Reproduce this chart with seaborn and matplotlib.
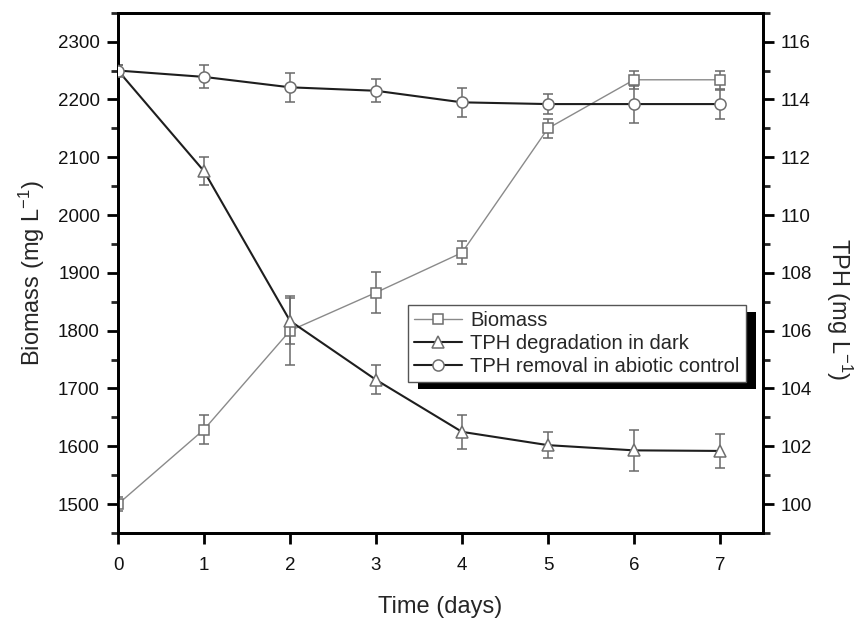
import matplotlib
matplotlib.use("Agg")
import matplotlib.pyplot as plt
import seaborn as sns
import pandas as pd
from matplotlib.patches import Rectangle
from matplotlib.ticker import MultipleLocator

# ---- data ----
days = [0, 1, 2, 3, 4, 5, 6, 7]
biomass = [1500, 1629, 1800, 1866, 1935, 2150, 2234, 2234]
biomass_err = [12, 25, 60, 35, 20, 16, 16, 16]
tph_dark = [115.0, 111.52, 106.34, 104.3, 102.5, 102.04, 101.86, 101.84]
tph_dark_err = [0.2, 0.48, 0.8, 0.5, 0.6, 0.44, 0.7, 0.6]
tph_abiotic = [115.0, 114.78, 114.42, 114.3, 113.9, 113.84, 113.84, 113.84]
tph_abiotic_err = [0.2, 0.4, 0.5, 0.4, 0.5, 0.34, 0.64, 0.5]
left_ticks = [1500, 1600, 1700, 1800, 1900, 2000, 2100, 2200, 2300]
right_ticks = [100, 102, 104, 106, 108, 110, 112, 114, 116]
labels = ["Biomass", "TPH degradation in dark", "TPH removal in abiotic control"]

sns.set_style("ticks")
plt.rcParams['font.family'] = ['Liberation Sans', 'DejaVu Sans']
plt.rcParams['mathtext.default'] = 'regular'

fig = plt.figure(figsize=(8.57, 6.18), dpi=100)
ax = fig.add_axes([0.1377, 0.1375, 0.7526, 0.8419])
ax2 = ax.twinx()

df_b = pd.DataFrame({"day": days, "val": biomass})
df_d = pd.DataFrame({"day": days, "val": tph_dark})
df_a = pd.DataFrame({"day": days, "val": tph_abiotic})

gray_line = "#8a8a8a"
dark_line = "#1e1e1e"
edge = "#6e6e6e"
errc = "#6a6a6a"
cap = 3.5

# biomass on left axis
ax.errorbar(days, biomass, yerr=biomass_err, fmt="none", ecolor=errc,
            elinewidth=1.1, capsize=cap, capthick=1.1, zorder=2)
sns.lineplot(data=df_b, x="day", y="val", ax=ax, color=gray_line, lw=1.0,
             marker="s", markersize=6.5, markerfacecolor="white",
             markeredgecolor=edge, markeredgewidth=1.1, zorder=3, label=labels[0],
             legend=False)

# TPH on right axis
ax2.errorbar(days, tph_dark, yerr=tph_dark_err, fmt="none", ecolor=errc,
             elinewidth=1.1, capsize=cap, capthick=1.1, zorder=2)
ax2.errorbar(days, tph_abiotic, yerr=tph_abiotic_err, fmt="none", ecolor=errc,
             elinewidth=1.1, capsize=cap, capthick=1.1, zorder=2)
sns.lineplot(data=df_d, x="day", y="val", ax=ax2, color=dark_line, lw=1.5,
             marker="^", markersize=8.5, markerfacecolor="white",
             markeredgecolor=edge, markeredgewidth=1.1, zorder=3, label=labels[1],
             legend=False)
sns.lineplot(data=df_a, x="day", y="val", ax=ax2, color=dark_line, lw=1.5,
             marker="o", markersize=8, markerfacecolor="white",
             markeredgecolor=edge, markeredgewidth=1.1, zorder=3, label=labels[2],
             legend=False)

ax.set_xlim(0, 7.5)
ax.set_ylim(1450, 2350)
ax2.set_ylim(99, 117)
ax.set_xticks(days)
ax.set_yticks(left_ticks)
ax2.set_yticks(right_ticks)
ax.yaxis.set_minor_locator(MultipleLocator(50))
ax2.yaxis.set_minor_locator(MultipleLocator(1))

for a in (ax, ax2):
    for sp in a.spines.values():
        sp.set_visible(True)
        sp.set_linewidth(2.0)
        sp.set_color("black")
    a.tick_params(axis="both", which="major", length=8, width=2, direction="out",
                  labelsize=13.5, color="black", labelcolor="#111111", pad=5)
    a.tick_params(axis="y", which="minor", length=5, width=2, direction="out")
ax.tick_params(axis="x", pad=9)

ax.set_xlabel("Time (days)", fontsize=17, labelpad=16)
ax.set_ylabel("Biomass (mg L$^{-1}$)", fontsize=17, labelpad=8)
ax2.set_ylabel("TPH (mg L$^{-1}$)", fontsize=17, rotation=270,
               va="center", ha="center")
ax2.yaxis.set_label_coords(1.118, 0.43)

# legend
h1, l1 = ax.get_legend_handles_labels()
h2, l2 = ax2.get_legend_handles_labels()
leg = ax2.legend(h1 + h2, l1 + l2, loc="upper left",
                 bbox_to_anchor=(0.4496, 0.438), borderaxespad=0,
                 fontsize=14.5, frameon=True, fancybox=False, framealpha=1,
                 edgecolor="#555555", handlelength=2.4, handletextpad=0.4,
                 labelspacing=0.2, borderpad=0.3)
leg.get_frame().set_linewidth(1.0)
leg.set_zorder(10)

fig.canvas.draw()
bb = leg.get_window_extent().transformed(fig.transFigure.inverted())
dx, dy = 10 / 857, 7 / 618
shadow = Rectangle((bb.x0 + dx, bb.y0 - dy), bb.width, bb.height,
                   transform=fig.transFigure, facecolor="black",
                   edgecolor="none", zorder=9)
ax2.add_artist(shadow)
shadow.set_clip_on(False)

fig.savefig("out.png", dpi=100)
